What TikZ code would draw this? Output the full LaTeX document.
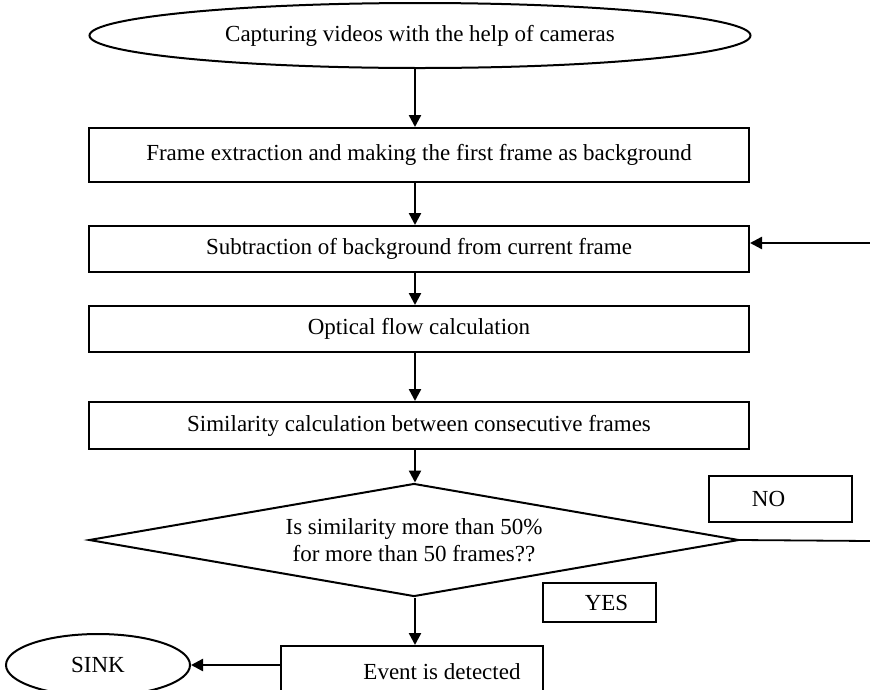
\documentclass[tikz,border=0pt]{standalone}
\usepackage{fontspec}
\setmainfont{Liberation Serif}
\usetikzlibrary{shapes.geometric,arrows.meta}
\begin{document}
\begin{tikzpicture}[x=1pt,y=-1pt,
  font=\fontsize{23}{27}\selectfont,
  stepbox/.style={draw, line width=2pt, rectangle, inner sep=0pt},
  oval/.style={draw, line width=2pt, ellipse, inner sep=0pt},
  arr/.style={line width=2.4pt, -{Triangle[length=12pt,width=12pt]}},
  plain/.style={line width=1.8pt}]
\clip (0,0) rectangle (870,689);

% start and process boxes
\node[oval, minimum width=661pt, minimum height=65pt] (cap) at (420,35.5)
  {Capturing videos with the help of cameras};
\node[stepbox, minimum width=660pt, minimum height=54pt] (b1) at (419,155)
  {Frame extraction and making the first frame as background};
\node[stepbox, minimum width=660pt, minimum height=46pt] (b2) at (419,249)
  {Subtraction of background from current frame};
\node[stepbox, minimum width=660pt, minimum height=46pt] (b3) at (419,329)
  {Optical flow calculation};
\node[stepbox, minimum width=660pt, minimum height=47pt] (b4) at (419,425.5)
  {Similarity calculation between consecutive frames};

% decision
\node[draw, line width=2pt, diamond, shape aspect=5.75, inner sep=0pt,
  align=center, minimum width=650pt, minimum height=113pt] (dec) at (414,540)
  {Is similarity more than 50\%\\for more than 50 frames??};

% branch labels
\node[stepbox, minimum width=143pt, minimum height=46pt] (no) at (780.5,499)
  {NO\hspace*{24pt}};
\node[stepbox, minimum width=113pt, minimum height=39pt] (yes) at (599.5,602.5)
  {\hspace*{14pt}YES};

% outcome
\node[stepbox, minimum width=262pt, minimum height=52pt] (ev) at (412,672)
  {\hspace*{60pt}Event is detected};
\node[oval, minimum width=184pt, minimum height=62pt] (sink) at (98,665)
  {SINK};

\coordinate (loopin) at (870,243);
\coordinate (noend) at (870,541);

% connectors
\draw[arr] ([xshift=-5pt]cap.south) -- ([xshift=-4pt]b1.north);
\draw[arr] ([xshift=-4pt]b1.south) -- ([xshift=-4pt]b2.north);
\draw[arr] ([xshift=-4pt]b2.south) -- ([xshift=-4pt]b3.north);
\draw[arr] ([xshift=-4pt]b3.south) -- ([xshift=-4pt]b4.north);
\draw[arr] ([xshift=-4pt]b4.south) -- ([xshift=1pt]dec.north);
\draw[arr] ([xshift=1pt]dec.south) -- ([xshift=1pt]dec.south |- ev.north);
\draw[arr] (loopin) -- (b2.east |- loopin);
\draw[plain] (dec.east) -- (noend);
\draw[arr] (sink.east -| ev.west) -- (sink.east);
\end{tikzpicture}
\end{document}
